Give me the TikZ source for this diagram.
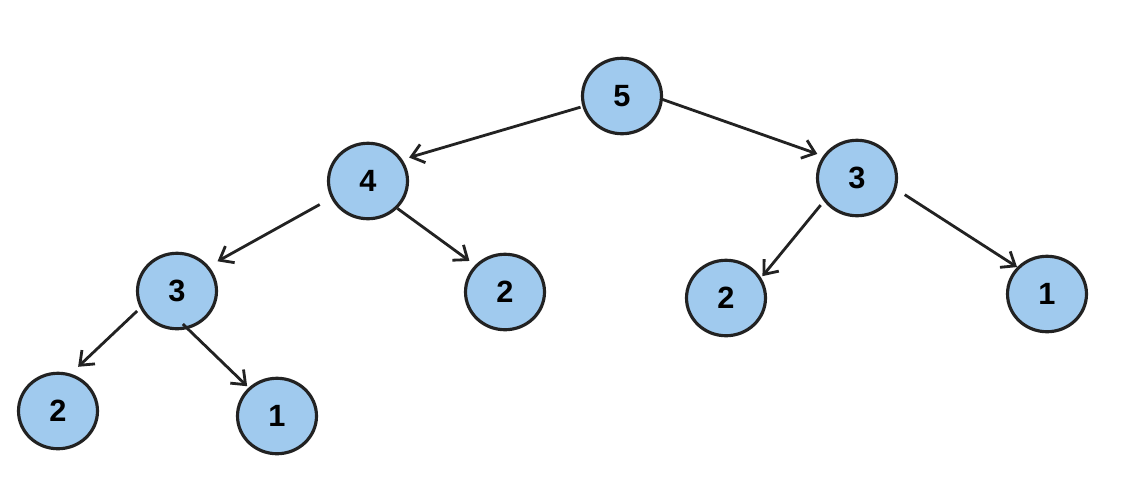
\documentclass[tikz,border=0pt]{standalone}
\usepackage{fontspec}
\setmainfont{Liberation Sans}
\usepackage{xcolor}
\usetikzlibrary{arrows.meta,shapes.geometric}
\definecolor{nodeblue}{RGB}{160,202,238}
\definecolor{inkgray}{RGB}{34,34,34}

\begin{document}
\begin{tikzpicture}[
  x=0.02cm, y=-0.02cm,
  heap/.style={ellipse, draw=inkgray, line width=1.8pt, fill=nodeblue, minimum width=1.58cm, minimum height=1.51cm, inner sep=0pt, font=\fontsize{17.5}{20}\selectfont\bfseries},
  arrow/.style={-{Straight Barb[length=2.4mm,width=3.8mm]}, line width=1.6pt, draw=inkgray}
]
\useasboundingbox (0,0) rectangle (1136,498);

\node[heap] (k5) at (622,96) {5};
\node[heap] (k4) at (368,181) {4};
\node[heap] (k3r) at (857,178) {3};
\node[heap] (k3l) at (177,291) {3};
\node[heap] (k2m) at (505,292) {2};
\node[heap] (k2r) at (726,298) {2};
\node[heap] (k1r) at (1047,294) {1};
\node[heap] (k2l) at (58,411) {2};
\node[heap] (k1l) at (277,416) {1};

\foreach \a/\sa/\b/\sb/\gs/\ge in {k5/195/k4/32/0.4mm/1.4mm, k5/355/k3r/147/-0.6mm/1.2mm, k4/205/k3l/38/2.6mm/2mm, k4/317/k2m/138/0mm/1.4mm, k3r/215/k2r/30/1mm/0.4mm, k3r/344/k1r/138/2mm/0mm, k3l/205/k2l/71/0.8mm/2mm, k3l/286/k1l/135/-1.4mm/0.4mm} \draw[arrow, shorten <=\gs, shorten >=\ge] (\a.\sa) -- (\b.\sb);
\end{tikzpicture}
\end{document}
